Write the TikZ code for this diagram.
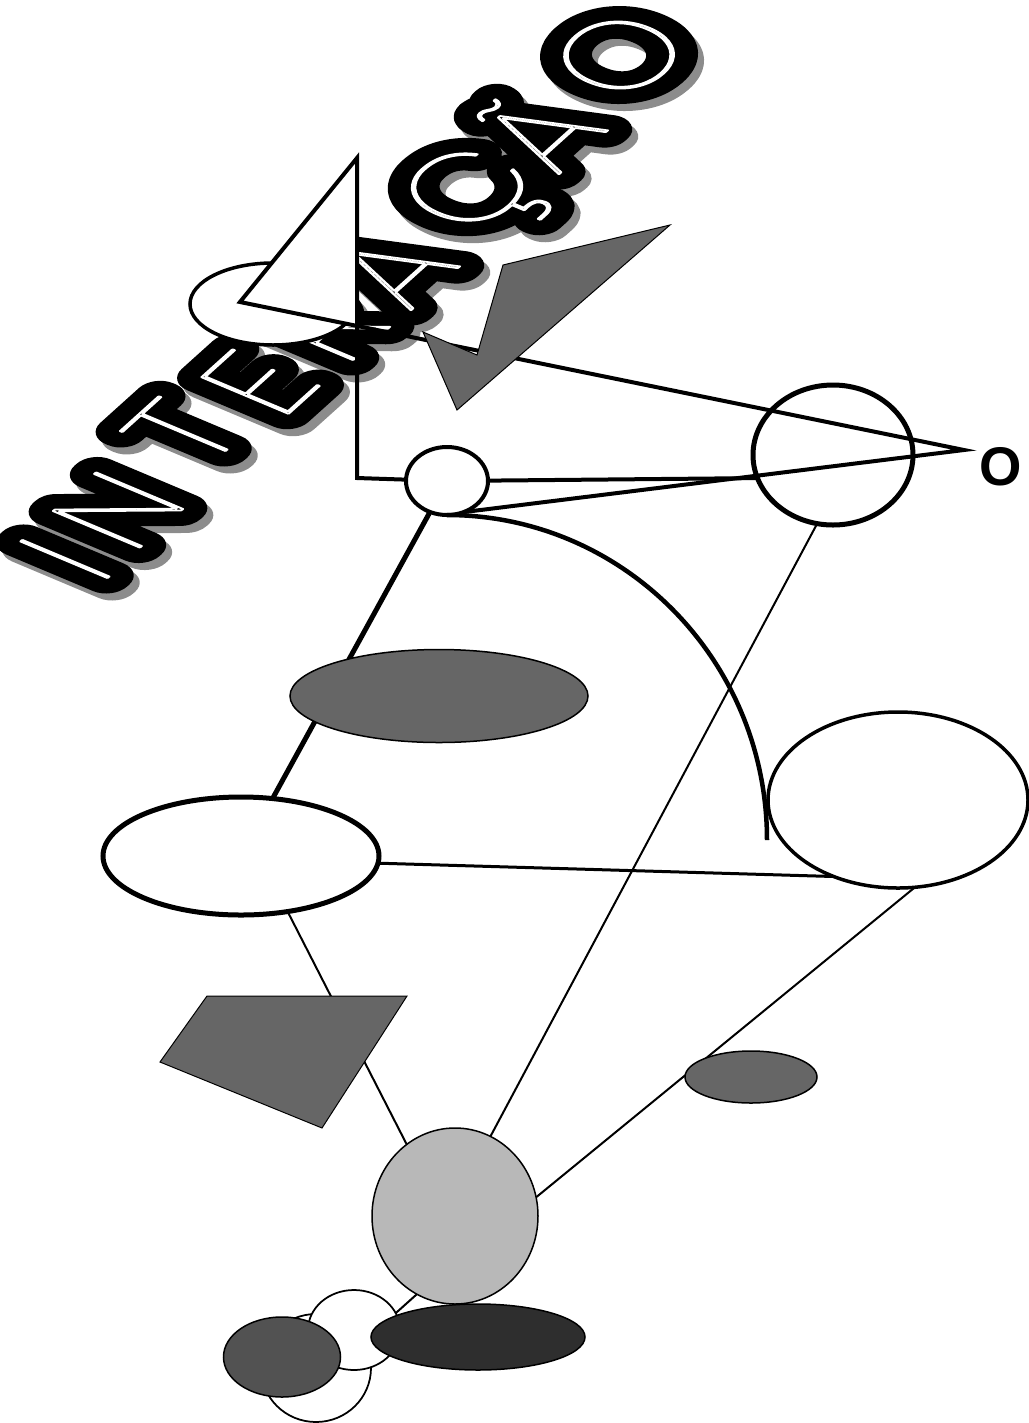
\documentclass[tikz,border=0pt]{standalone}
\usepackage{fontspec}
\setmainfont{Liberation Sans}
\IfFontExistsTF{Poppins Thin}
  {\newfontfamily\titlefont{Poppins Thin}\def\inkw{22}\def\titlesize{69}\def\titlecap{48.5pt}}
  {\newfontfamily\titlefont{Liberation Sans}\def\inkw{14}\def\titlesize{70}\def\titlecap{50pt}}
\usetikzlibrary{shapes.geometric}
\definecolor{dotgray}{gray}{0.4}
\definecolor{lightdot}{gray}{0.72}
\definecolor{darkdot}{gray}{0.18}
\definecolor{shadowgray}{gray}{0.55}
% text render modes: fat filled+stroked letters, thin white outline on top
\newcommand\inkmode{\special{pdf:literal direct 2 Tr \inkw\space w 1 j 1 J}}
\newcommand\linemode{\special{pdf:literal direct 1 Tr 1.2 w 1 j 1 J}}
\def\titleword{I/65/559,N/118/510,T/183/432,E/259/383,R/326/327,A/392/270,Ç/466/188,Ã/540/134,O/619/55}
\tikzset{
  titleletter/.style={font=\titlefont\fontsize{\titlesize}{\titlesize}\selectfont,inner sep=0pt,text height=\titlecap,text depth=0pt,rotate=42,xslant=-0.47},
  titleshadow/.style={titleletter,text=shadowgray},
  titleink/.style={titleletter,text=black},
  titleline/.style={titleletter,text=white},
  ring/.style={ellipse,draw,inner sep=0pt,outer sep=0pt},
  spot/.style={ellipse,draw,fill=#1,inner sep=0pt,outer sep=0pt,line width=0.3mm},
}

\begin{document}
\begin{tikzpicture}[x=0.2mm,y=-0.2mm,
    thickline/.style={line width=0.8mm},
    thinline/.style={line width=0.4mm},
  ]
  \useasboundingbox (0,0) rectangle (1029,1423);

  % lettering
  \foreach \ch/\cx/\cy [count=\i] in \titleword
    \node[titleshadow] (sh\i) at (\cx+6,\cy+7) {\inkmode\ch};
  \foreach \ch/\cx/\cy [count=\i] in \titleword
    \node[titleink] (ink\i) at (\cx,\cy) {\inkmode\ch};
  \foreach \ch/\cx/\cy [count=\i] in \titleword
    \node[titleline] (ln\i) at (\cx,\cy) {\linemode\ch};

  \node[ring,fill=white,line width=0.7mm,minimum width=33.2mm,minimum height=16.4mm] (te) at (273,304) {};

  \coordinate (apex) at (357,158);
  \coordinate (tl) at (240,302);
  \coordinate (tbase) at (357,326);
  \coordinate (corner) at (357,478);
  \coordinate (tip) at (964,450);
  \fill[white] (apex) -- (tl) -- (tbase) -- cycle;

  \node[ring,fill=white,line width=0.8mm,minimum width=16.4mm,minimum height=13.6mm] (sc) at (447,481) {};
  \node[ring,line width=1mm,minimum width=32mm,minimum height=28mm] (bc) at (833,455) {};
  \draw[thickline] (sc) -- (corner) -- (apex) -- (tl) -- (tip) -- (sc.-62);
  \draw[thickline] (sc) -- (bc.197);
  \draw[line width=0.9mm] (sc.south) arc[start angle=-90,end angle=0,x radius=320,y radius=325];

  \fill[dotgray,draw=black,line width=0.2mm] (670,225) -- (503,265) -- (477,355) -- (423,332) -- (457,410) -- cycle;

  \node[font=\bfseries\fontsize{31}{31}\selectfont,inner sep=0pt] (lbl) at (1001,467) {O};

  \node[ring,line width=1mm,minimum width=55.2mm,minimum height=23.6mm] (le) at (241,856) {};
  \draw[line width=1mm] (sc) -- (le);
  \node[spot=dotgray,minimum width=59.6mm,minimum height=18.6mm] (ge) at (439,696) {};

  \node[ring,line width=0.7mm,minimum width=52mm,minimum height=35.2mm] (re) at (898,800) {};
  \draw[line width=0.6mm] (le.-3) -- (re.230);

  \node[spot=lightdot,minimum width=33.2mm,minimum height=35.2mm] (gc) at (455,1216) {};
  \draw[thinline] (bc.257) -- (gc.66);
  \draw[thinline] (le.-50) -- (gc.124);
  \draw[thinline] (gc.13) -- (re.-79);

  \fill[dotgray,draw=black,line width=0.2mm] (207,996) -- (407,996) -- (322,1128) -- (160,1062) -- cycle;
  \node[spot=dotgray,minimum width=26.4mm,minimum height=10.4mm] (de) at (751,1077) {};

  % bottom cluster
  \node[ring,fill=white,line width=0.35mm,minimum width=22mm,minimum height=21.6mm] (wb) at (316,1368) {};
  \node[ring,fill=white,line width=0.35mm,minimum width=18.4mm,minimum height=16mm] (wa) at (354,1330) {};
  \draw[thinline] (wa.22) -- (gc.244);
  \node[spot=dotgray!80!black,minimum width=23.4mm,minimum height=16mm] (dc) at (282,1357) {};
  \node[spot=darkdot,minimum width=42.8mm,minimum height=13.2mm] (be) at (478,1337) {};
\end{tikzpicture}
\end{document}
